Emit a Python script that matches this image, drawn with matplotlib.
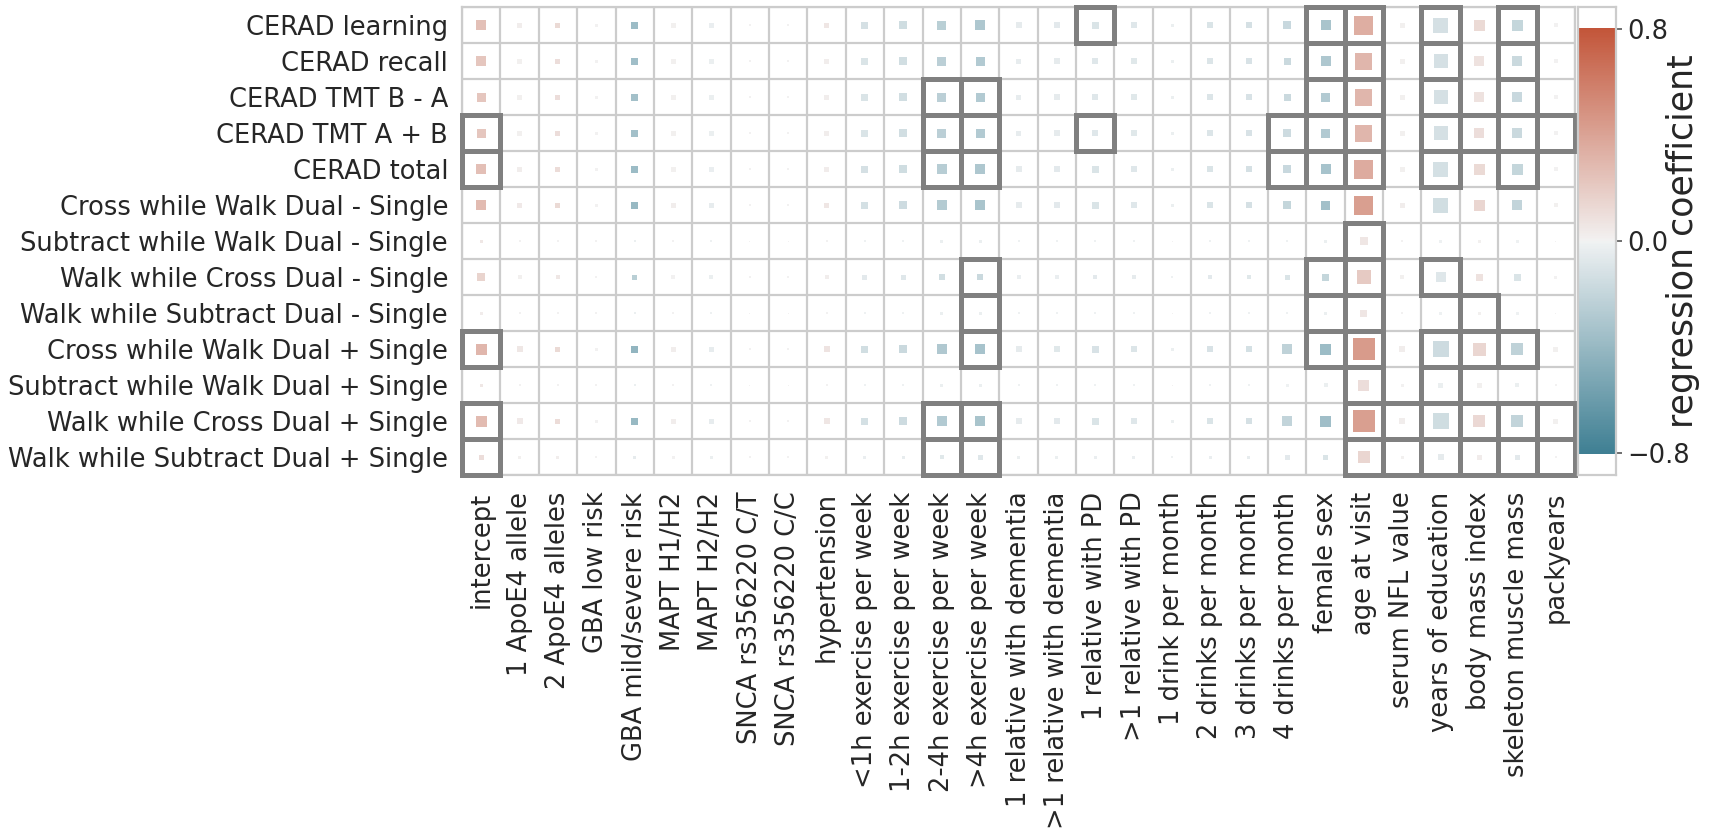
import numpy as np
import matplotlib.pyplot as plt
import seaborn as sns
from matplotlib.patches import Rectangle

outcomes = ['CERAD learning', 'CERAD recall', 'CERAD TMT B - A', 'CERAD TMT A + B',
            'CERAD total', 'Cross while Walk Dual - Single',
            'Subtract while Walk Dual - Single', 'Walk while Cross Dual - Single',
            'Walk while Subtract Dual - Single', 'Cross while Walk Dual + Single',
            'Subtract while Walk Dual + Single', 'Walk while Cross Dual + Single',
            'Walk while Subtract Dual + Single']

predictors = ['intercept', '1 ApoE4 allele', '2 ApoE4 alleles', 'GBA low risk',
              'GBA mild/severe risk', 'MAPT H1/H2', 'MAPT H2/H2', 'SNCA rs356220 C/T',
              'SNCA rs356220 C/C', 'hypertension', '<1h exercise per week',
              '1-2h exercise per week', '2-4h exercise per week', '>4h exercise per week',
              '1 relative with dementia', '>1 relative with dementia', '1 relative with PD',
              '>1 relative with PD', '1 drink per month', '2 drinks per month',
              '3 drinks per month', '4 drinks per month', 'female sex', 'age at visit',
              'serum NFL value', 'years of education', 'body mass index',
              'skeleton muscle mass', 'packyears']

# regression coefficients (colour)
coef = [
    [0.25, 0.02, 0.12, 0.0, -0.38, 0.01, -0.03, 0.0, 0.0, 0.06, -0.12, -0.15, -0.25, -0.30, -0.05, -0.06, -0.10, -0.08, -0.02, -0.10, -0.12, -0.18, -0.32, 0.35, 0.01, -0.12, 0.12, -0.20, 0.0],
    [0.22, 0.01, 0.10, 0.0, -0.36, 0.01, -0.02, 0.0, 0.0, 0.02, -0.10, -0.14, -0.24, -0.28, -0.04, -0.05, -0.08, -0.07, -0.02, -0.09, -0.11, -0.17, -0.30, 0.30, 0.01, -0.12, 0.08, -0.17, 0.0],
    [0.22, 0.01, 0.10, 0.0, -0.35, 0.01, -0.02, 0.0, 0.0, 0.02, -0.10, -0.14, -0.24, -0.28, -0.04, -0.05, -0.08, -0.07, -0.02, -0.09, -0.11, -0.17, -0.28, 0.30, 0.01, -0.12, 0.08, -0.18, 0.0],
    [0.22, 0.01, 0.10, 0.0, -0.35, 0.01, -0.02, 0.0, 0.0, 0.02, -0.10, -0.14, -0.24, -0.28, -0.04, -0.05, -0.08, -0.07, -0.02, -0.09, -0.11, -0.16, -0.28, 0.30, 0.01, -0.12, 0.10, -0.17, 0.0],
    [0.26, 0.02, 0.11, 0.0, -0.38, 0.01, -0.03, 0.0, 0.0, 0.03, -0.12, -0.15, -0.26, -0.30, -0.05, -0.06, -0.10, -0.08, -0.02, -0.10, -0.12, -0.18, -0.33, 0.36, 0.01, -0.13, 0.12, -0.20, 0.0],
    [0.28, 0.04, 0.12, 0.0, -0.40, 0.02, -0.04, 0.0, 0.0, 0.06, -0.13, -0.16, -0.27, -0.32, -0.05, -0.06, -0.10, -0.08, -0.02, -0.10, -0.12, -0.20, -0.35, 0.42, 0.02, -0.14, 0.14, -0.21, 0.01],
    [0.05, 0.0, 0.0, 0.0, -0.02, 0.0, -0.01, 0.0, 0.0, 0.0, -0.01, -0.01, -0.02, -0.02, -0.01, -0.01, -0.01, -0.01, 0.0, -0.01, -0.01, -0.01, -0.02, 0.06, 0.0, -0.01, 0.01, -0.01, 0.0],
    [0.15, 0.01, 0.05, 0.0, -0.25, 0.0, -0.02, 0.0, 0.0, 0.02, -0.06, -0.08, -0.14, -0.17, -0.03, -0.03, -0.06, -0.05, -0.01, -0.06, -0.07, -0.10, -0.20, 0.20, 0.01, -0.08, 0.08, -0.10, 0.0],
    [0.03, 0.0, 0.0, 0.0, -0.02, 0.0, -0.01, 0.0, 0.0, 0.0, -0.01, -0.01, -0.02, -0.02, -0.01, -0.01, -0.01, -0.01, 0.0, -0.01, -0.01, -0.01, -0.02, 0.06, 0.0, -0.01, 0.01, -0.01, 0.0],
    [0.30, 0.05, 0.12, 0.0, -0.42, 0.02, -0.04, 0.0, 0.0, 0.07, -0.14, -0.17, -0.29, -0.33, -0.05, -0.07, -0.11, -0.09, -0.02, -0.11, -0.13, -0.22, -0.38, 0.44, 0.02, -0.16, 0.14, -0.22, 0.01],
    [0.05, 0.0, 0.0, 0.0, -0.02, 0.0, -0.01, 0.0, 0.0, 0.0, -0.01, -0.01, -0.02, -0.02, -0.01, -0.01, -0.01, -0.01, 0.0, -0.01, -0.01, -0.01, -0.02, 0.10, 0.0, -0.02, 0.01, -0.02, 0.0],
    [0.28, 0.04, 0.11, 0.0, -0.40, 0.02, -0.04, 0.0, 0.0, 0.06, -0.13, -0.16, -0.28, -0.32, -0.05, -0.06, -0.10, -0.08, -0.02, -0.10, -0.12, -0.21, -0.36, 0.42, 0.02, -0.15, 0.13, -0.21, 0.01],
    [0.10, 0.01, 0.02, 0.0, -0.05, 0.0, -0.02, 0.0, 0.0, 0.01, -0.03, -0.04, -0.07, -0.08, -0.02, -0.02, -0.03, -0.03, -0.01, -0.03, -0.04, -0.06, -0.10, 0.14, 0.01, -0.05, 0.03, -0.06, 0.0],
]

# effect magnitude (square size)
effect = [
    [10, 5, 5, 3, 7, 5, 5, 2, 2, 5, 7, 8, 9, 10, 6, 6, 7, 6, 3, 6, 6, 8, 10, 19, 5, 15, 11, 11, 4],
    [10, 5, 5, 3, 7, 5, 5, 2, 2, 5, 7, 8, 9, 9, 5, 6, 6, 6, 3, 6, 6, 7, 10, 17, 5, 14, 10, 10, 4],
    [9, 5, 5, 3, 7, 5, 5, 2, 2, 5, 7, 8, 9, 9, 5, 6, 6, 6, 3, 6, 6, 7, 9, 17, 5, 14, 10, 10, 4],
    [9, 5, 5, 3, 7, 5, 5, 2, 2, 5, 7, 8, 9, 9, 5, 6, 6, 6, 3, 6, 6, 8, 9, 17, 5, 14, 10, 10, 4],
    [10, 5, 5, 3, 7, 5, 5, 2, 2, 5, 7, 8, 10, 10, 6, 6, 7, 6, 3, 6, 6, 8, 10, 19, 5, 15, 11, 11, 4],
    [10, 5, 5, 3, 7, 5, 5, 2, 2, 5, 7, 8, 10, 10, 6, 6, 7, 6, 3, 6, 6, 8, 9, 19, 5, 15, 11, 10, 4],
    [3, 2, 2, 2, 2, 2, 2, 1, 1, 2, 2, 2, 3, 3, 2, 2, 2, 2, 1, 2, 2, 2, 3, 8, 2, 3, 3, 3, 1],
    [8, 4, 4, 2, 5, 4, 4, 2, 2, 4, 5, 5, 6, 6, 4, 4, 4, 4, 2, 4, 4, 5, 7, 14, 4, 10, 7, 7, 3],
    [3, 2, 2, 2, 2, 2, 2, 1, 1, 2, 2, 2, 3, 3, 2, 2, 2, 2, 1, 2, 2, 2, 3, 7, 2, 3, 3, 3, 1],
    [11, 6, 5, 3, 7, 5, 5, 2, 2, 6, 7, 8, 10, 10, 6, 6, 7, 6, 3, 6, 6, 10, 11, 22, 6, 16, 13, 12, 5],
    [3, 2, 2, 2, 2, 2, 2, 1, 1, 2, 2, 2, 3, 3, 2, 2, 2, 2, 1, 2, 2, 3, 4, 11, 3, 5, 5, 4, 2],
    [11, 6, 5, 3, 7, 5, 5, 2, 2, 6, 7, 8, 10, 10, 6, 6, 7, 6, 3, 6, 6, 10, 11, 22, 6, 16, 12, 12, 5],
    [5, 3, 3, 2, 3, 3, 3, 2, 2, 3, 3, 3, 4, 5, 3, 3, 3, 3, 2, 3, 3, 5, 5, 12, 3, 6, 5, 5, 2],
]

# significant predictors per outcome (column indices)
significant = [
    [16, 22, 23, 25, 27],
    [22, 23, 25, 27],
    [12, 13, 22, 23, 25, 27],
    [0, 12, 13, 16, 21, 22, 23, 25, 26, 27, 28],
    [0, 12, 13, 21, 22, 23, 25, 27],
    [],
    [23],
    [13, 22, 23, 25],
    [13, 22, 23, 26],
    [0, 13, 22, 23, 25, 26, 27],
    [23, 25],
    [0, 12, 13, 23, 24, 25, 26, 27, 28],
    [0, 12, 13, 23, 24, 25, 26, 27, 28],
]

sns.set_style('whitegrid')
plt.rcParams['font.family'] = ['DejaVu Sans']
text_color = '#262626'

coef = np.array(coef)
effect = np.array(effect, dtype=float)
n_rows, n_cols = coef.shape

cmap = sns.diverging_palette(220, 20, as_cmap=True)
vmin, vmax = -0.8, 0.8

W, H = 1713, 832
fig = plt.figure(figsize=(W / 100, H / 100), dpi=100)
ax = fig.add_axes([462 / W, 1 - 475 / H, (1575 - 462) / W, 468 / H])
cax = fig.add_axes([1578 / W, 1 - 475 / H, 38 / W, 468 / H])

# squares
cols, rows = np.meshgrid(np.arange(n_cols), np.arange(n_rows))
ax.scatter(cols.ravel(), rows.ravel(), s=(effect.ravel() * 0.72) ** 2, marker='s',
           c=coef.ravel(), cmap=cmap, vmin=vmin, vmax=vmax, linewidths=0, zorder=3)

# significance boxes
for r, sig_cols in enumerate(significant):
    for c in sig_cols:
        ax.add_patch(Rectangle((c - 0.5, r - 0.5), 1, 1, fill=False, edgecolor='#808080',
                               linewidth=3.6, joinstyle='miter', zorder=4, clip_on=False))

ax.set_xlim(-0.5, n_cols - 0.5)
ax.set_ylim(n_rows - 0.5, -0.5)
ax.set_xticks(np.arange(n_cols))
ax.set_xticklabels(predictors, rotation=90, fontsize=18.5, color=text_color)
ax.set_yticks(np.arange(n_rows))
ax.set_yticklabels(outcomes, fontsize=18.5, color=text_color)
ax.set_xticks(np.arange(-0.5, n_cols, 1), minor=True)
ax.set_yticks(np.arange(-0.5, n_rows, 1), minor=True)
ax.grid(False, which='major')
ax.grid(True, which='minor', color='#cccccc', linewidth=1.6)
ax.tick_params(which='both', length=0)
ax.tick_params(axis='x', pad=12)
ax.tick_params(axis='y', pad=10)
for sp in ax.spines.values():
    sp.set_color('#cccccc')
    sp.set_linewidth(1.6)

# colour bar drawn from bars
palette = sns.diverging_palette(220, 20, n=256)
bar_y = np.linspace(vmin, vmax, 256)
cax.barh(bar_y, [5] * 256, left=0, height=bar_y[1] - bar_y[0], color=palette, linewidth=0)
cax.set_xlim(1, 2)
cax.grid(False)
cax.set_facecolor('white')
cax.set_xticks([])
cax.set_yticks([vmin, 0, vmax])
cax.yaxis.tick_right()
cax.tick_params(axis='y', right=True, length=4, width=1.2, color='#555555',
                labelsize=18.5, labelcolor=text_color, pad=4)
cax.text(2.76, 0.5, 'regression coefficient', transform=cax.transAxes, rotation=90,
         ha='center', va='center', fontsize=25, color=text_color)
for sp in cax.spines.values():
    sp.set_color('#cccccc')
    sp.set_linewidth(1.6)

fig.savefig('out.png', dpi=100)
